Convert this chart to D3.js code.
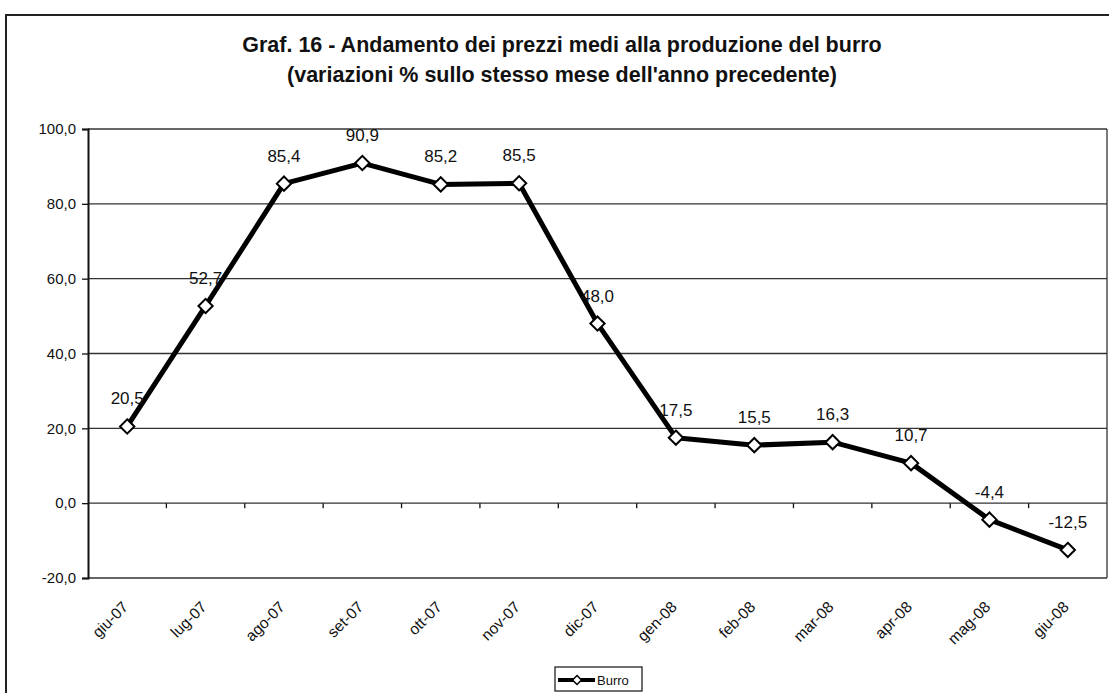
<!DOCTYPE html>
<html>
<head>
<meta charset="utf-8">
<script src="https://cdn.jsdelivr.net/npm/d3@7"></script>
<style>
  body { margin: 0; background: #fff; }
  svg { display: block; font-family: "Liberation Sans", Arial, sans-serif; }
</style>
</head>
<body>
<svg id="chart" width="1109" height="693"></svg>
<script>
const months = ["giu-07", "lug-07", "ago-07", "set-07", "ott-07", "nov-07", "dic-07",
  "gen-08", "feb-08", "mar-08", "apr-08", "mag-08", "giu-08"];
const burro = [20.5, 52.7, 85.4, 90.9, 85.2, 85.5, 48.0, 17.5, 15.5, 16.3, 10.7, -4.4, -12.5];
const yTicks = [-20, 0, 20, 40, 60, 80, 100];
const titleLines = [
  "Graf. 16 - Andamento dei prezzi medi alla produzione del burro",
  "(variazioni % sullo stesso mese dell'anno precedente)"
];
const seriesName = "Burro";

const svg = d3.select("#chart");
const width = +svg.attr("width"), height = +svg.attr("height");
const margin = { top: 129, right: 2, bottom: 115, left: 88 };

const fmt = v => d3.format(".1f")(v).replace(".", ",").replace("−", "-");

// outer frame
svg.append("rect")
  .attr("x", 6)
  .attr("y", 15)
  .attr("width", width + 20)
  .attr("height", height + 20)
  .attr("fill", "none")
  .attr("stroke", "#222")
  .attr("stroke-width", 2);

const x = d3.scaleBand()
  .domain(months)
  .range([margin.left, width - margin.right])
  .padding(0);

const y = d3.scaleLinear()
  .domain([-20, 100])
  .range([height - margin.bottom, margin.top]);

// gridlines
svg.append("g")
  .selectAll("line")
  .data(yTicks)
  .join("line")
  .attr("x1", margin.left)
  .attr("x2", width - margin.right)
  .attr("y1", d => y(d))
  .attr("y2", d => y(d))
  .attr("stroke", "#333")
  .attr("stroke-width", 1.3);

// right border of plot
svg.append("line")
  .attr("x1", width - margin.right)
  .attr("x2", width - margin.right)
  .attr("y1", y(100))
  .attr("y2", y(-20))
  .attr("stroke", "#333")
  .attr("stroke-width", 1.3);

// y axis
const yAxis = svg.append("g")
  .attr("transform", `translate(${margin.left},0)`)
  .call(d3.axisLeft(y).tickValues(yTicks).tickSize(6).tickPadding(6).tickFormat(fmt));
yAxis.select(".domain").attr("stroke", "#111").attr("stroke-width", 2);
yAxis.selectAll(".tick line").attr("stroke", "#111").attr("stroke-width", 1.3);
yAxis.selectAll("text")
  .style("font-size", "15px")
  .attr("fill", "#111");

// x axis at zero: tick marks between categories
const bounds = months.slice(1).map(m => x(m));
svg.append("g")
  .selectAll("line")
  .data(bounds)
  .join("line")
  .attr("x1", d => d)
  .attr("x2", d => d)
  .attr("y1", y(0))
  .attr("y2", y(0) + 5)
  .attr("stroke", "#111")
  .attr("stroke-width", 1.3);

// category labels
svg.append("g")
  .selectAll("text")
  .data(months)
  .join("text")
  .attr("transform", d => `translate(${x(d) + x.bandwidth() / 2 + 2},${y(-20) + 30}) rotate(-45)`)
  .attr("text-anchor", "end")
  .style("font-size", "15.5px")
  .attr("fill", "#111")
  .text(d => d);

// series line
const pts = months.map((m, i) => ({ m, v: burro[i] }));
const line = d3.line()
  .x(d => x(d.m) + x.bandwidth() / 2)
  .y(d => y(d.v));

svg.append("path")
  .datum(pts)
  .attr("d", line)
  .attr("fill", "none")
  .attr("stroke", "#000")
  .attr("stroke-width", 5)
  .attr("stroke-linejoin", "round");

const diamond = d3.symbol().type(d3.symbolDiamond2).size(130);

svg.append("g")
  .selectAll("path")
  .data(pts)
  .join("path")
  .attr("transform", d => `translate(${x(d.m) + x.bandwidth() / 2},${y(d.v)})`)
  .attr("d", diamond)
  .attr("fill", "#fff")
  .attr("stroke", "#000")
  .attr("stroke-width", 2);

// data labels
svg.append("g")
  .selectAll("text")
  .data(pts)
  .join("text")
  .attr("x", d => x(d.m) + x.bandwidth() / 2)
  .attr("y", d => y(d.v) - 22)
  .attr("text-anchor", "middle")
  .style("font-size", "17px")
  .attr("fill", "#111")
  .text(d => fmt(d.v));

// title
svg.append("g")
  .selectAll("text")
  .data(titleLines)
  .join("text")
  .attr("x", 562)
  .attr("y", (d, i) => 52 + i * 30)
  .attr("text-anchor", "middle")
  .style("font-size", "21.5px")
  .style("font-weight", "bold")
  .attr("fill", "#111")
  .text(d => d);

// legend
const legend = svg.append("g")
  .attr("transform", "translate(555,667)");

legend.append("rect")
  .attr("width", 87)
  .attr("height", 24)
  .attr("fill", "#fff")
  .attr("stroke", "#222")
  .attr("stroke-width", 1.3);

legend.append("line")
  .attr("x1", 3)
  .attr("x2", 40)
  .attr("y1", 13)
  .attr("y2", 13)
  .attr("stroke", "#000")
  .attr("stroke-width", 4);

legend.append("path")
  .attr("transform", "translate(22,13)")
  .attr("d", d3.symbol().type(d3.symbolDiamond2).size(50))
  .attr("fill", "#fff")
  .attr("stroke", "#000")
  .attr("stroke-width", 1.5);

legend.append("text")
  .attr("x", 42)
  .attr("y", 18)
  .style("font-size", "13px")
  .attr("fill", "#111")
  .text(seriesName);
</script>
</body>
</html>
